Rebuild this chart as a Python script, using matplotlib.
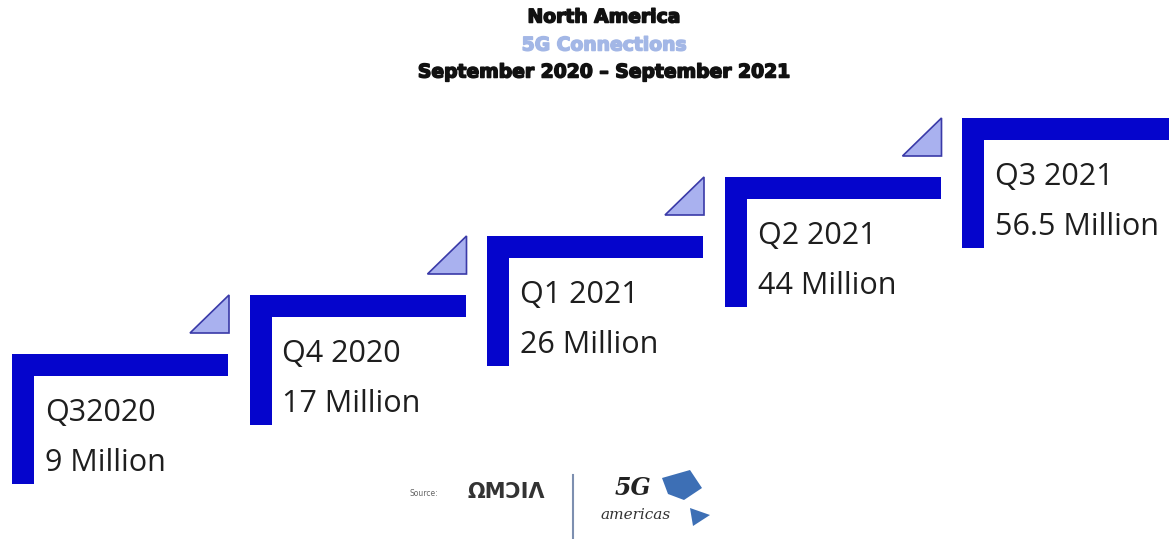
import matplotlib.pyplot as plt
import matplotlib.patheffects as pe
from matplotlib.patches import Rectangle, Polygon

# quarterly 5G connections, North America
quarters = ['Q32020', 'Q4 2020', 'Q1 2021', 'Q2 2021', 'Q3 2021']
connections = [9, 17, 26, 44, 56.5]  # millions

BAR = '#0505cc'
TRI_FILL = '#a9b1ef'
TRI_EDGE = '#3a3aa8'

fig = plt.figure(figsize=(11.69, 5.39), dpi=100)
ax = fig.add_axes([0, 0, 1, 1])
ax.set_xlim(0, 1169)
ax.set_ylim(539, 0)
ax.axis('off')

# staircase layout (pixels)
x0, y0 = 12, 354
dx, dy = 237.5, -59
thick = 22
hlen, vlen = 216, 130

for i, (q, v) in enumerate(zip(quarters, connections)):
    left = x0 + i * dx
    top = y0 + i * dy
    w = hlen if i < len(quarters) - 1 else 1169 - left + 5
    ax.add_patch(Rectangle((left, top), w, thick, color=BAR, lw=0))
    ax.add_patch(Rectangle((left, top), thick, vlen, color=BAR, lw=0))
    val = f'{v:g} Million'
    ax.text(left + 33, top + 67, q, fontsize=22, family='Open Sans',
            color='#1e1e1e', va='baseline', ha='left')
    ax.text(left + 33, top + 117, val, fontsize=22, family='Open Sans',
            color='#1e1e1e', va='baseline', ha='left')
    if i < len(quarters) - 1:
        r = left + 217
        b = top - 21
        ax.add_patch(Polygon([(r - 39, b), (r, b - 38), (r, b)], closed=True,
                             facecolor=TRI_FILL, edgecolor=TRI_EDGE, lw=1.2))

# titles
heavy = lambda c: [pe.withStroke(linewidth=1.1, foreground=c)]
ax.text(604, 17, 'North America', ha='center', va='center', fontsize=13.5,
        fontweight='heavy', color='#111111', path_effects=heavy('#111111'))
ax.text(604, 45, '5G Connections', ha='center', va='center', fontsize=13.5,
        fontweight='heavy', color='#a3b7e6', path_effects=heavy('#a3b7e6'))
ax.text(604, 72, 'September 2020 \u2013 September 2021', ha='center',
        va='center', fontsize=13.5, fontweight='heavy', color='#111111',
        path_effects=heavy('#111111'))

# footer
ax.text(410, 493, 'Source:', ha='left', va='center', fontsize=5.5,
        color='#666666')
ax.text(468, 492, '\u03a9M\u0186I\u039b', ha='left', va='center', fontsize=15,
        fontweight='bold', color='#333333')
ax.plot([573, 573], [475, 539], color='#7d8fb0', lw=1.5)
ax.text(633, 488, '5G', ha='center', va='center', fontsize=17, style='italic',
        fontweight='bold', color='#222222', family='DejaVu Serif')
ax.text(636, 515, 'americas', ha='center', va='center', fontsize=11,
        style='italic', color='#333333', family='DejaVu Serif')
ax.add_patch(Polygon([(662, 478), (690, 470), (702, 488), (684, 500), (668, 494)],
                     closed=True, facecolor='#3d6fb5', edgecolor='none'))
ax.add_patch(Polygon([(690, 508), (710, 515), (693, 526)], closed=True,
                     facecolor='#3d6fb5', edgecolor='none'))

fig.savefig('out.png', dpi=100)
